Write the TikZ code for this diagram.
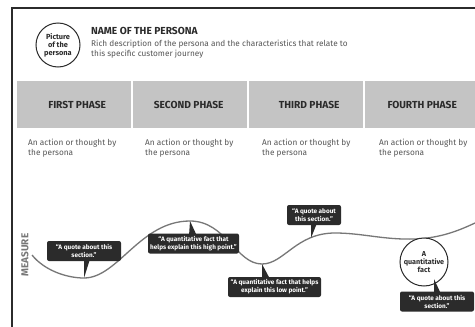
\documentclass[tikz,border=0pt]{standalone}
\usepackage{fontspec}
\setmainfont{Fira Sans}
\definecolor{ink}{HTML}{2B2B2B}
\definecolor{phasegray}{HTML}{C4C4C4}
\definecolor{curvegray}{HTML}{777777}
\definecolor{txt}{HTML}{555555}
\tikzset{
  phasebox/.style={fill=phasegray,draw=none,minimum height=47pt,inner sep=0pt,anchor=north west,text=ink,font=\fontsize{10.2}{12}\selectfont\bfseries},
  actiontext/.style={anchor=north west,inner sep=0pt,align=left,text=txt,font=\fontsize{8.25}{9.5}\selectfont},
  bubble/.style={fill=ink,rounded corners=2pt,inner sep=0pt,align=center,text=white,font=\fontsize{6.4}{8}\selectfont\bfseries},
  circ/.style={circle,draw=ink,fill=white,line width=1pt,inner sep=0pt,align=center,text=ink},
  tail/.style={fill=ink,draw=none},
}
\begin{document}
\begin{tikzpicture}[x=1pt,y=-1pt]
\useasboundingbox (0,0) rectangle (475,327);
\fill[white] (0,0) rectangle (475,327);
\coordinate (frameA) at (12,327);
\coordinate (frameB) at (12,8);
\coordinate (frameC) at (475,8);
\draw[ink,line width=2pt] (frameA) -- (frameB) -- (frameC);
\node[circ,minimum size=44pt,font=\fontsize{7.4}{8}\selectfont\bfseries] (pic) at (58,45) {Picture\\of the\\persona};
\node[anchor=north west,inner sep=0pt,text=ink,font=\fontsize{10.2}{12}\selectfont\bfseries] (name) at (91,27) {NAME OF THE PERSONA};
\node[actiontext] (desc) at (91,40) {Rich description of the persona and the characteristics that relate to\\this specific customer journey};
\node[phasebox,minimum width=114pt] (p1) at (17,81) {\hspace*{6pt}FIRST PHASE};
\node[phasebox,minimum width=114pt] (p2) at (133,81) {SECOND PHASE\hspace*{3pt}};
\node[phasebox,minimum width=114pt] (p3) at (249,81) {\hspace*{6pt}THIRD PHASE};
\node[phasebox,minimum width=110pt] (p4) at (365,81) {\hspace*{4pt}FOURTH PHASE};
\node[actiontext] (a1) at (28,139) {An action or thought by\\the persona};
\node[actiontext] (a2) at (145,139) {An action or thought by\\the persona};
\node[actiontext] (a3) at (262,139) {An action or thought by\\the persona};
\node[actiontext] (a4) at (379,139) {An action or thought by\\the persona};
\node[rotate=90,inner sep=0pt,text=curvegray,font=\fontsize{10}{12}\selectfont\bfseries] (m) at (25,255) {MEASURE};
\draw[curvegray,line width=1.3pt]
  (32,255) .. controls (44,270) and (66,278) .. (84,278)
  .. controls (118,278) and (140,221) .. (190,221)
  .. controls (226,221) and (236,264) .. (262,264)
  .. controls (284,264) and (296,233) .. (335,233)
  .. controls (362,233) and (384,240) .. (415,239)
  .. controls (440,238) and (458,231) .. (475,223);
\node[circ,minimum size=48pt,font=\fontsize{7.2}{8}\selectfont\bfseries] (fact) at (424,262) {A\\quantitative\\fact};
\fill[tail] (84,259) -- (84,278) -- (90,259) -- cycle;
\fill[tail] (189,236) -- (190,221) -- (197,236) -- cycle;
\fill[tail] (262,264) -- (262,279) -- (270,279) -- cycle;
\fill[tail] (311,223) -- (311,238) -- (317,223) -- cycle;
\fill[tail] (434,279) -- (434,294) -- (441,294) -- cycle;
\node[bubble,minimum width=74pt,minimum height=20pt] (b1) at (84,251) {“A quote about this\\section.”};
\node[bubble,minimum width=91pt,minimum height=20pt] (b2) at (193.5,243.5) {“A quantitative fact that\\helps explain this high point.”};
\node[bubble,minimum width=93pt,minimum height=20pt] (b3) at (274.5,287) {“A quantitative fact that helps\\explain this low point.”};
\node[bubble,minimum width=54pt,minimum height=20pt] (b4) at (314,215) {“A quote about\\this section.”};
\node[bubble,minimum width=74pt,minimum height=20pt] (b5) at (437,301.5) {“A quote about this\\section.”};
\end{tikzpicture}
\end{document}
